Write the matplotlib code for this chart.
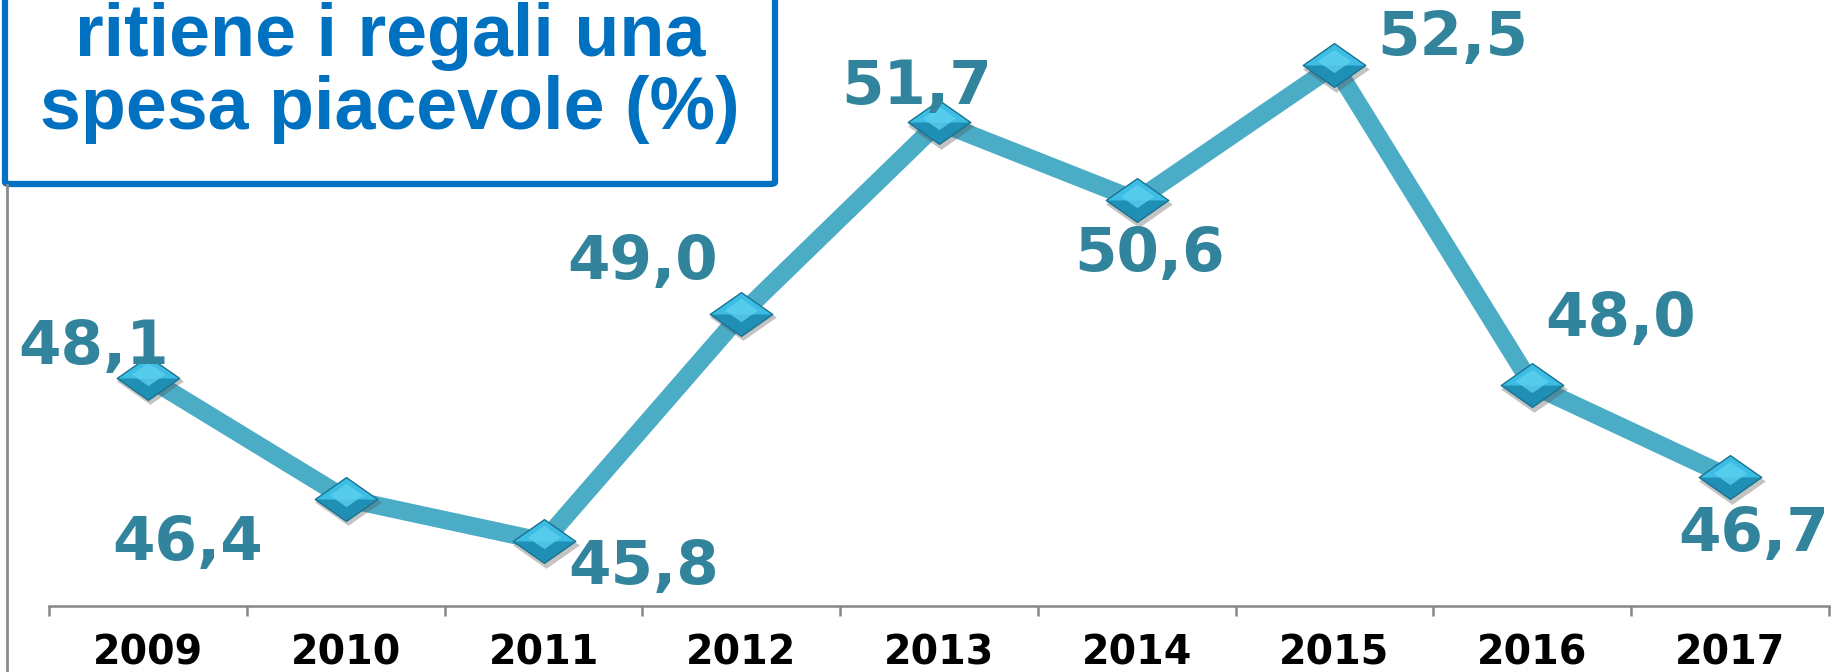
import matplotlib
matplotlib.use('Agg')
import matplotlib.pyplot as plt
from matplotlib.path import Path
from matplotlib.lines import Line2D
from matplotlib.patches import FancyBboxPatch
import matplotlib.transforms as mtransforms

# dati
anni = ['2009', '2010', '2011', '2012', '2013', '2014', '2015', '2016', '2017']
valori = [48.1, 46.4, 45.8, 49.0, 51.7, 50.6, 52.5, 48.0, 46.7]
etichette = ['48,1', '46,4', '45,8', '49,0', '51,7', '50,6', '52,5', '48,0', '46,7']
titolo = ['ritiene i regali una', 'spesa piacevole (%)']

# spostamento delle etichette rispetto al punto (in punti)
spost_etichette = [(-39, 22), (-114, -32), (72, -19), (-71, 37), (-16, 25),
                   (9, -39), (85, 19), (64, 47), (17, -41)]

fig = plt.figure(figsize=(18.45, 6.72), dpi=100)
ax = fig.add_axes([0.0268, 0.0982, 0.9643, 0.9018])

x = list(range(len(anni)))
ax.plot(x, valori, color='#4BACC6', lw=13, solid_joinstyle='miter', zorder=2)

# marcatore a rombo schiacciato, con effetto rilievo
rombo = Path([(-1, 0), (0, 0.7), (1, 0), (0, -0.7), (-1, 0)],
             [Path.MOVETO, Path.LINETO, Path.LINETO, Path.LINETO, Path.CLOSEPOLY])
meta_su = Path([(-1, 0), (0, 0.7), (1, 0), (-1, 0)],
               [Path.MOVETO, Path.LINETO, Path.LINETO, Path.CLOSEPOLY])
ombra = mtransforms.offset_copy(ax.transData, fig=fig, x=1.5, y=-2.5, units='points')
ax.plot(x, valori, ls='none', marker=rombo, ms=48, mfc='#555555', mec='none',
        alpha=0.35, transform=ombra, zorder=3)
ax.plot(x, valori, ls='none', marker=rombo, ms=45, mfc='#1F8FB5', mec='#1A7391',
        mew=1, zorder=4)
ax.plot(x, valori, ls='none', marker=meta_su, ms=43, mfc='#3DBDE3', mec='none',
        zorder=5)
luce = mtransforms.offset_copy(ax.transData, fig=fig, x=0, y=3, units='points')
ax.plot(x, valori, ls='none', marker=rombo, ms=24, mfc='#5CD0EF', mec='none',
        alpha=0.8, transform=luce, zorder=6)

for i in range(len(valori)):
    ax.annotate(etichette[i], (x[i], valori[i]), xytext=spost_etichette[i],
                textcoords='offset points', ha='center', va='center',
                fontsize=44, fontweight='bold', color='#31849B', zorder=7)

ax.set_xlim(-0.5, len(anni) - 0.5)
ax.set_ylim(44.89, 53.42)
ax.set_yticks([])
for s in ['left', 'right', 'top']:
    ax.spines[s].set_visible(False)
ax.spines['bottom'].set_color('#868686')
ax.spines['bottom'].set_linewidth(1.8)

ax.set_xticks(x)
ax.set_xticklabels(anni, fontsize=28.5, fontweight='bold', color='black')
ax.set_xticks([i - 0.5 for i in range(len(anni) + 1)], minor=True)
ax.tick_params(axis='x', which='major', length=0, pad=20)
ax.tick_params(axis='x', which='minor', length=7, width=1.8, color='#868686')

# linea verticale a sinistra
fig.add_artist(Line2D([7 / 1845, 7 / 1845], [0, 1 - 185 / 672],
                      transform=fig.transFigure, color='#8c8c8c', lw=2))

# riquadro del titolo
fig.add_artist(FancyBboxPatch((5 / 1845, 1 - 184 / 672), (775 - 5) / 1845, 0.5,
                              boxstyle='round,pad=0,rounding_size=0.003',
                              transform=fig.transFigure, fill=False, ec='#0070C0',
                              lw=4.5, clip_on=False))
fig.text(390 / 1845, 1 - 56 / 672, titolo[0], ha='center', va='baseline',
         fontsize=53, fontweight='bold', color='#0070C0', family='Liberation Sans')
fig.text(390 / 1845, 1 - 129 / 672, titolo[1], ha='center', va='baseline',
         fontsize=53, fontweight='bold', color='#0070C0', family='Liberation Sans')

fig.savefig('out.png', dpi=100)
